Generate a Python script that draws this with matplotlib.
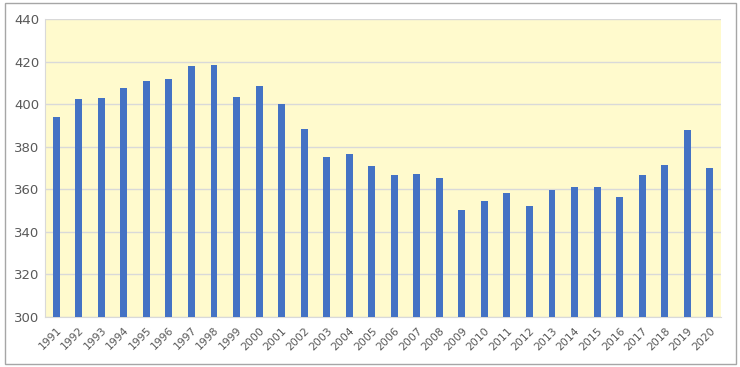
import matplotlib
matplotlib.use("Agg")
import matplotlib.pyplot as plt
from matplotlib.patches import Rectangle

years = [str(y) for y in range(1991, 2021)]
values = [393.8, 402.6, 402.9, 407.6, 410.7, 411.8, 418.1, 418.4, 403.2, 408.3,
          399.9, 388.5, 375.3, 376.4, 370.8, 366.9, 367.2, 365.1, 350.1, 354.5,
          358.3, 352.0, 359.5, 361.2, 361.2, 356.2, 366.9, 371.4, 387.9, 369.8]
yticks = [300, 320, 340, 360, 380, 400, 420, 440]

W, H = 740, 367
fig = plt.figure(figsize=(W / 100, H / 100), dpi=100)
fig.patch.set_facecolor("white")

# outer chart border
fig.patches.append(Rectangle((5 / W, 1 - 364 / H), 731 / W, 361 / H,
                             transform=fig.transFigure, fill=False,
                             edgecolor="#A6A6A6", linewidth=1.0))

ax = fig.add_axes([45 / W, 1 - 317 / H, 676 / W, 298 / H])
ax.set_facecolor("#FFFACD")
x = range(len(years))
ax.bar(x, values, width=0.31, color="#4472C4", zorder=3)
ax.set_xlim(-0.5, len(years) - 0.5)
ax.set_ylim(300, 440)
ax.set_yticks(yticks)
ax.set_yticklabels([str(v) for v in yticks], fontsize=9.5, color="#595959")
ax.set_xticks(list(x))
ax.set_xticklabels(years, rotation=45, ha="right", rotation_mode="anchor",
                   fontsize=7.8, color="#595959")
ax.tick_params(axis="both", length=0, pad=4)
ax.tick_params(axis="x", pad=6)
ax.grid(axis="y", color="#D9D9D9", linewidth=1.0, zorder=0)
for s in ax.spines.values():
    s.set_visible(False)
ax.spines["bottom"].set_visible(True)
ax.spines["bottom"].set_color("#D9D9D9")
ax.spines["left"].set_visible(True)
ax.spines["left"].set_color("#D9D9D9")

fig.savefig("out.png", dpi=100)
